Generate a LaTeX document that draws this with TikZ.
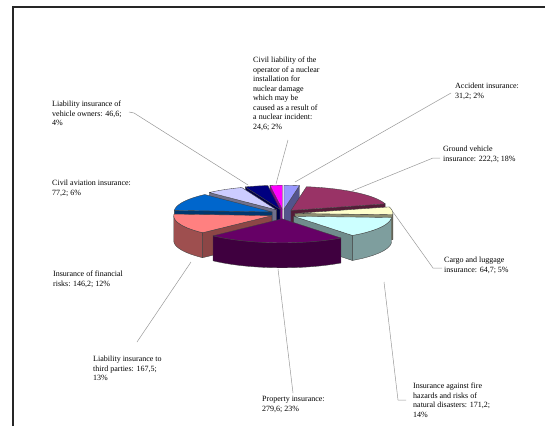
\documentclass[tikz,border=0pt]{standalone}
\usepackage{fontspec}
\setmainfont{Liberation Serif}
\definecolor{cAcc}{HTML}{9999FF}
\definecolor{cGv}{HTML}{993366}
\definecolor{cCargo}{HTML}{FFFFCC}
\definecolor{cHaz}{HTML}{CCFFFF}
\definecolor{cProp}{HTML}{660066}
\definecolor{cThird}{HTML}{FF8080}
\definecolor{cFin}{HTML}{0066CC}
\definecolor{cAv}{HTML}{CCCCFF}
\definecolor{cVeh}{HTML}{000080}
\definecolor{cNuc}{HTML}{FF00FF}
\def\cx{283}\def\cy{214}\def\rx{98}\def\ry{24}\def\hh{25}\def\ex{12}
\newcommand\myslice[3]{%
  \pgfmathsetmacro\mm{(#1+#2)/2}%
  \pgfmathsetmacro\ddx{\ex*cos(\mm)}%
  \pgfmathsetmacro\ddy{-0.4*\ex*sin(\mm)}%
  \begin{scope}[shift={(\ddx,\ddy)}, slicedge]
    \pgfmathtruncatemacro\vs{cos(#1)<0}%
    \ifnum\vs=1
      \filldraw[fill=#3!55!black] (\cx,\cy) -- ({\cx+\rx*cos(#1)},{\cy-\ry*sin(#1)}) -- ++(0,\hh) -- (\cx,{\cy+\hh}) -- cycle;
    \fi
    \pgfmathtruncatemacro\ve{cos(#2)>0}%
    \ifnum\ve=1
      \filldraw[fill=#3!55!black] (\cx,\cy) -- ({\cx+\rx*cos(#2)},{\cy-\ry*sin(#2)}) -- ++(0,\hh) -- (\cx,{\cy+\hh}) -- cycle;
    \fi
    \pgfmathsetmacro\aa{min(#1,0)}%
    \pgfmathsetmacro\ab{max(#2,-180)}%
    \pgfmathtruncatemacro\vf{\aa>\ab}%
    \ifnum\vf=1
      \filldraw[fill=#3!62!black] plot[domain=\aa:\ab, samples=24] ({\cx+\rx*cos(\x)},{\cy-\ry*sin(\x)})
        -- plot[domain=\ab:\aa, samples=24] ({\cx+\rx*cos(\x)},{\cy-\ry*sin(\x)+\hh}) -- cycle;
    \fi
    \filldraw[fill=#3] (\cx,\cy) -- plot[domain=#1:#2, samples=30] ({\cx+\rx*cos(\x)},{\cy-\ry*sin(\x)}) -- cycle;
  \end{scope}}
\tikzset{
  slicedge/.style={draw=black!75, line width=0.35pt, line join=round},
  lbl/.style={anchor=north west, align=left, inner sep=0pt, font=\fontsize{8}{9.5}\selectfont},
  leader/.style={draw=black!40, line width=0.5pt},
  frame/.style={draw=black!85, line width=1.3pt}
}
\begin{document}
\begin{tikzpicture}[x=1pt, y=-1pt]
\useasboundingbox[fill=white] (0,0) rectangle (545,426);
\draw[frame] (13,426) -- (13,7) -- (545,7);
% slices, back to front
\myslice{90}{80.876}{cAcc}
\myslice{97.191}{90}{cNuc}
\myslice{110.818}{97.191}{cVeh}
\myslice{133.393}{110.818}{cAv}
\myslice{80.876}{15.871}{cGv}
\myslice{-183.855}{-226.607}{cFin}
\myslice{15.871}{-3.049}{cCargo}
\myslice{-134.874}{-183.855}{cThird}
\myslice{-3.049}{-53.112}{cHaz}
\myslice{-53.112}{-134.874}{cProp}
% labels
\node[lbl] (nuc) at (253,57) {Civil liability of the\\operator of a nuclear\\installation for\\nuclear damage\\which may be\\caused as a result of\\a nuclear incident:\\24,6; 2\%};
\node[lbl] (acc) at (455,83) {Accident insurance:\\31,2; 2\%};
\node[lbl] (gv) at (443,146) {Ground vehicle\\insurance: 222,3; 18\%};
\node[lbl] (cargo) at (444,257) {Cargo and luggage\\insurance: 64,7; 5\%};
\node[lbl] (haz) at (413,383) {Insurance against fire\\hazards and risks of\\natural disasters: 171,2;\\14\%};
\node[lbl] (prop) at (262,396) {Property insurance:\\279,6; 23\%};
\node[lbl] (third) at (93,356) {Liability insurance to\\third parties: 167,5;\\13\%};
\node[lbl] (fin) at (53,271) {Insurance of financial\\risks: 146,2; 12\%};
\node[lbl] (av) at (52,180) {Civil aviation insurance:\\77,2; 6\%};
\node[lbl] (veh) at (52,101) {Liability insurance of\\vehicle owners: 46,6;\\4\%};
% leader anchor points
\coordinate (nucA) at (288,140);  \coordinate (nucB) at (276,184);
\coordinate (accA) at (451,93);   \coordinate (accB) at (295,182);
\coordinate (gvA) at (440,158);   \coordinate (gvK) at (433,158); \coordinate (gvB) at (352,191);
\coordinate (caA) at (442,268);   \coordinate (caK) at (433,268); \coordinate (caB) at (393,212);
\coordinate (hzA) at (406,400);   \coordinate (hzK) at (398,400); \coordinate (hzB) at (384,282);
\coordinate (prA) at (293,393);   \coordinate (prB) at (278,269);
\coordinate (thA) at (137,342);   \coordinate (thB) at (191,262);
\coordinate (veA) at (129,112);   \coordinate (veK) at (134,113); \coordinate (veB) at (248,185);
\draw[leader] (nucA) -- (nucB);
\draw[leader] (accA) -- (accB);
\draw[leader] (gvA) -- (gvK) -- (gvB);
\draw[leader] (caA) -- (caK) -- (caB);
\draw[leader] (hzA) -- (hzK) -- (hzB);
\draw[leader] (prA) -- (prB);
\draw[leader] (thA) -- (thB);
\draw[leader] (veA) -- (veK) -- (veB);
\end{tikzpicture}
\end{document}
